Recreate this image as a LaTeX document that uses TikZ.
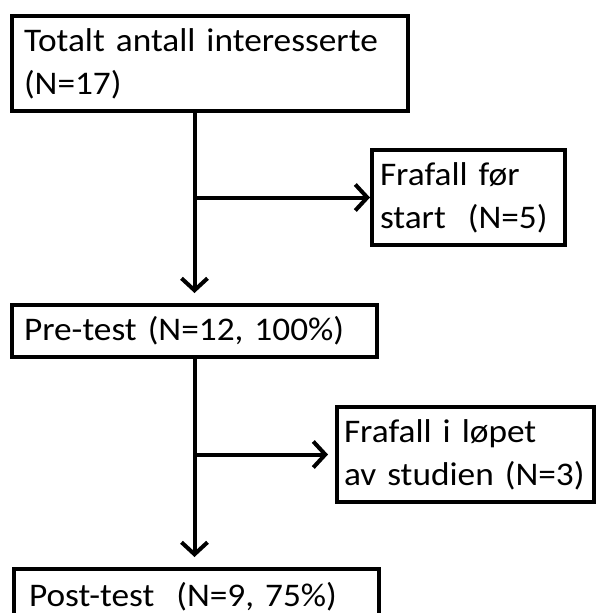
\documentclass[tikz,border=0pt]{standalone}
\usepackage{fontspec}
\setmainfont[FakeStretch=1.07,WordSpace=0.7]{Carlito}
\usetikzlibrary{arrows.meta}

\begin{document}
\begin{tikzpicture}[x=1pt,y=-1pt,
		box/.style={draw,line width=4pt,anchor=north west,align=left,
			inner xsep=12pt,inner ysep=0pt,font=\fontsize{33}{43}\selectfont},
		arr/.style={line width=4pt,-{Straight Barb[length=12pt,width=26pt]}}]
		\useasboundingbox (0,0) rectangle (596,613);
		\node[box,text width=372pt,minimum height=95pt] (total) at (10,14) {Totalt antall interesserte\\(N=17)};
		\node[box,inner xsep=8pt,text width=177pt,minimum height=95pt] (drop1) at (370,148) {Frafall før\\start~ (N=5)};
		\node[box,text width=341pt,minimum height=52pt] (pre) at (10,303) {Pre-test (N=12, 100\%)};
		\node[box,inner xsep=7pt,text width=243pt,minimum height=95pt] (drop2) at (335,405) {Frafall i løpet\\\mbox{av studien (N=3)}};
		\node[box,inner xsep=15pt,text width=335pt,minimum height=55pt] (post) at (12,567) {Post-test ~(N=9, 75\%)};
		\draw[arr,shorten >=10pt] (total.south -| pre.north) -- (pre.north);
		\draw[arr] (drop1.west -| pre.north) -- (drop1.west);
		\draw[arr,shorten >=10pt] (pre.south) -- (pre.south |- post.north);
		\draw[arr,shorten >=7pt] (drop2.west -| pre.south) -- (drop2.west);
	\end{tikzpicture}
\end{document}
